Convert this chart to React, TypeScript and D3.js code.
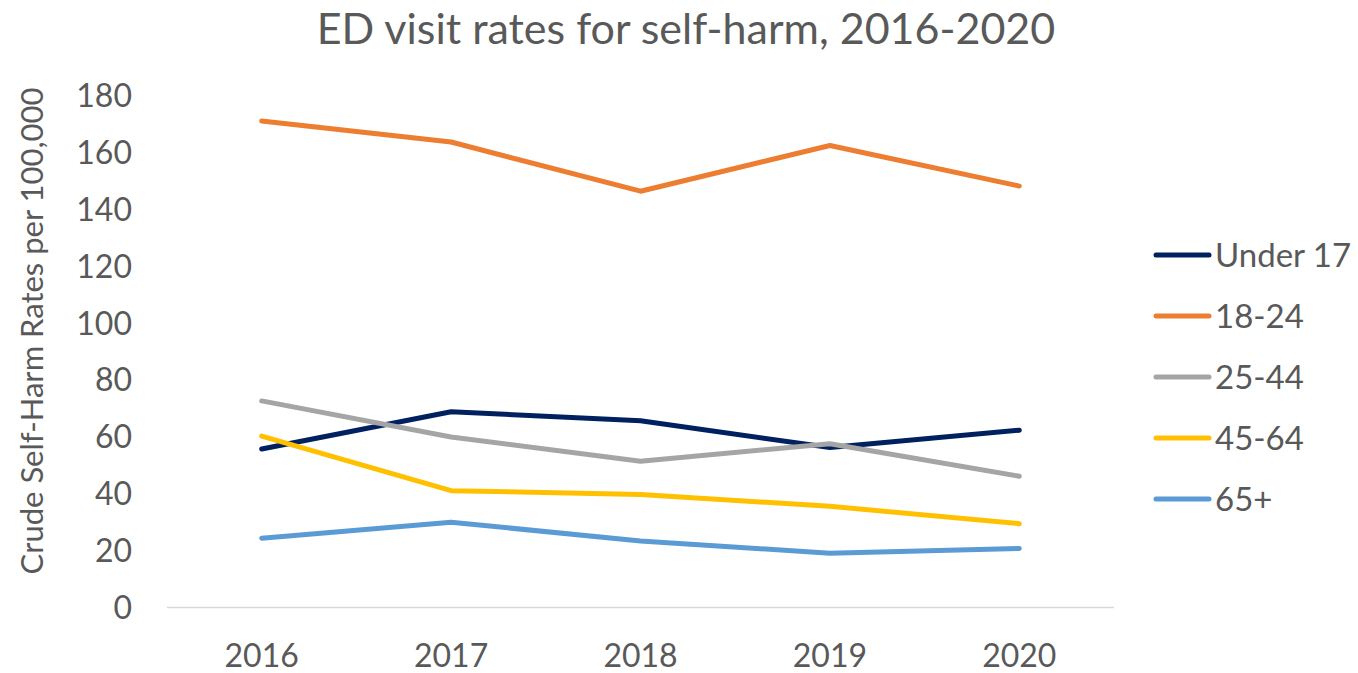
import React from "react";
import * as d3 from "d3";

const years = ["2016", "2017", "2018", "2019", "2020"];
const seriesNames = ["Under 17", "18-24", "25-44", "45-64", "65+"];
const under17 = [55.8, 68.9, 65.7, 56.3, 62.4];
const age18to24 = [171.2, 163.8, 146.5, 162.6, 148.3];
const age25to44 = [72.7, 60.0, 51.5, 57.6, 46.2];
const age45to64 = [60.3, 41.1, 39.8, 35.6, 29.5];
const age65plus = [24.4, 30.0, 23.4, 19.1, 20.8];
const yTicks = [0, 20, 40, 60, 80, 100, 120, 140, 160, 180];
const colors = ["#002060", "#ED7D31", "#A5A5A5", "#FFC000", "#5B9BD5"];

const allSeries = [under17, age18to24, age25to44, age45to64, age65plus];

export default function App() {
  const W = 1358, H = 673;
  const font = "Lato, 'Open Sans', sans-serif";
  const x = d3.scaleBand().domain(years).range([167, 1114]);
  const y = d3.scaleLinear().domain([0, 180]).range([607.5, 96]);
  const line = d3
    .line<number>()
    .x((_, i) => (x(years[i]) as number) + x.bandwidth() / 2)
    .y((d) => y(d));
  return (
    <svg width={W} height={H} style={{ position: "absolute", left: 0, top: 0 }}>
      <rect width={W} height={H} fill="#fff" />
      <text x={686} y={44} textAnchor="middle" fontFamily={font} fontSize={43} fill="#595959">
        ED visit rates for self-harm, 2016-2020
      </text>
      <line x1={167} x2={1114} y1={y(0)} y2={y(0)} stroke="#D9D9D9" strokeWidth={1.5} />
      {yTicks.map((t) => (
        <text key={t} x={132} y={y(t)} dy="0.35em" textAnchor="end" fontFamily={font} fontSize={32} fill="#595959">
          {t}
        </text>
      ))}
      {years.map((yr) => (
        <text key={yr} x={(x(yr) as number) + x.bandwidth() / 2} y={667} textAnchor="middle" fontFamily={font} fontSize={32} fill="#595959">
          {yr}
        </text>
      ))}
      <text transform="translate(32,331) rotate(-90)" textAnchor="middle" dy="0.35em" fontFamily={font} fontSize={31} fill="#595959">
        Crude Self-Harm Rates per 100,000
      </text>
      {allSeries.map((s, i) => (
        <path key={i} d={line(s) as string} fill="none" stroke={colors[i]} strokeWidth={5} strokeLinejoin="round" strokeLinecap="round" />
      ))}
      {seriesNames.map((n, i) => {
        const ly = 255 + i * 61;
        return (
          <g key={n}>
            <line x1={1156} x2={1209} y1={ly} y2={ly} stroke={colors[i]} strokeWidth={5} strokeLinecap="round" />
            <text x={1215} y={ly} dy="0.35em" fontFamily={font} fontSize={33} fill="#595959">
              {n}
            </text>
          </g>
        );
      })}
    </svg>
  );
}
